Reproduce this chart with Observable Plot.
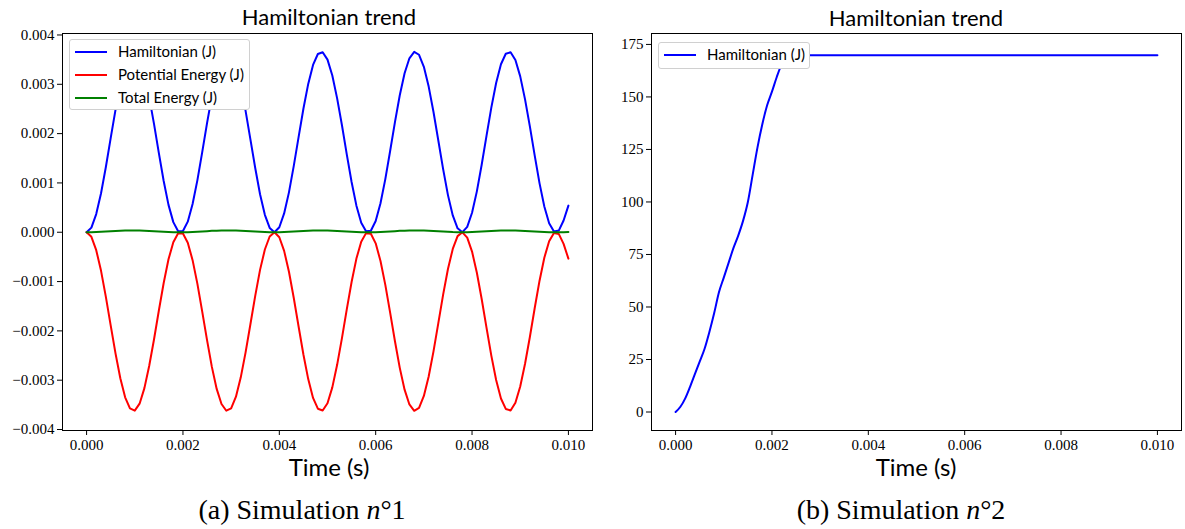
<!DOCTYPE html>
<html><head><meta charset="utf-8">
<script src="https://cdn.jsdelivr.net/npm/d3@7"></script>
<script src="https://cdn.jsdelivr.net/npm/@observablehq/plot@0.6"></script>
<style>
body{margin:0;background:#fff;}
#wrap{position:relative;width:1185px;height:529px;overflow:hidden;background:#fff;}
.abs{position:absolute;white-space:nowrap;line-height:1;}
.sans{font-family:Lato,"Open Sans",sans-serif;color:#000;}
.serif{font-family:"Liberation Serif",serif;color:#000;}
.c{transform:translate(-50%,-50%);}
.title{font-size:22px;}
.xlabel{font-size:24px;}
.cap{font-size:28px;}
.legend{position:absolute;border:1px solid #d0d0d0;border-radius:3px;background:#fff;box-sizing:border-box;}
.legend .row{position:absolute;left:0;height:20px;width:100%;}
.legend .sw{position:absolute;left:5px;top:9px;width:32px;height:2px;}
.legend .tx{position:absolute;left:48px;top:2px;font-size:15px;white-space:nowrap;line-height:1;}
svg{position:absolute;top:0;}
</style></head><body><div id="wrap"></div><script>
// ---- Simulation 1 (values in 1e-3 J), sampled every 1e-4 s from 0 to 0.010 s
const hamiltonian1 = [0,0.094,0.368,0.790,1.323,1.907,2.482,2.990,3.381,3.608,3.654,3.511,3.192,2.735,2.192,1.603,1.039,0.555,0.205,0.022,0.026,0.215,0.572,1.057,1.624,2.211,2.758,3.209,3.518,3.656,3.606,3.368,2.972,2.461,1.884,1.302,0.771,0.354,0.087,0.000,0.102,0.382,0.809,1.346,1.930,2.504,3.008,3.393,3.614,3.651,3.501,3.177,2.715,2.169,1.580,1.018,0.539,0.194,0.018,0.030,0.227,0.589,1.078,1.647,2.233,2.778,3.224,3.527,3.657,3.599,3.354,2.954,2.439,1.861,1.279,0.753,0.341,0.080,0.001,0.110,0.396,0.829,1.368,1.953,2.526,3.026,3.406,3.619,3.649,3.492,3.161,2.694,2.146,1.557,0.997,0.522,0.184,0.015,0.034,0.238,0.540];
const potential1 = [0,-0.093,-0.364,-0.782,-1.310,-1.888,-2.457,-2.960,-3.347,-3.572,-3.617,-3.476,-3.160,-2.708,-2.170,-1.587,-1.029,-0.549,-0.203,-0.022,-0.026,-0.213,-0.566,-1.046,-1.608,-2.189,-2.730,-3.177,-3.483,-3.619,-3.570,-3.334,-2.942,-2.436,-1.865,-1.289,-0.763,-0.350,-0.086,0.000,-0.101,-0.378,-0.801,-1.333,-1.911,-2.479,-2.978,-3.359,-3.578,-3.614,-3.466,-3.145,-2.688,-2.147,-1.564,-1.008,-0.534,-0.192,-0.018,-0.030,-0.225,-0.583,-1.067,-1.631,-2.211,-2.750,-3.192,-3.492,-3.620,-3.563,-3.320,-2.924,-2.415,-1.842,-1.266,-0.745,-0.338,-0.079,-0.001,-0.109,-0.392,-0.821,-1.354,-1.933,-2.501,-2.996,-3.372,-3.583,-3.613,-3.457,-3.129,-2.667,-2.125,-1.541,-0.987,-0.517,-0.182,-0.015,-0.034,-0.236,-0.535];
const total1 = [0,0.001,0.004,0.008,0.013,0.019,0.025,0.030,0.034,0.036,0.037,0.035,0.032,0.027,0.022,0.016,0.010,0.006,0.002,0,0,0.002,0.006,0.011,0.016,0.022,0.028,0.032,0.035,0.037,0.036,0.034,0.030,0.025,0.019,0.013,0.008,0.004,0.001,0,0.001,0.004,0.008,0.013,0.019,0.025,0.030,0.034,0.036,0.037,0.035,0.032,0.027,0.022,0.016,0.010,0.005,0.002,0,0,0.002,0.006,0.011,0.016,0.022,0.028,0.032,0.035,0.037,0.036,0.034,0.030,0.024,0.019,0.013,0.008,0.003,0.001,0,0.001,0.004,0.008,0.014,0.020,0.025,0.030,0.034,0.036,0.036,0.035,0.032,0.027,0.021,0.016,0.010,0.005,0.002,0,0,0.002,0.005];
const time1 = d3.range(hamiltonian1.length).map(i => i / 10000); // sampling grid, dt = 1e-4 s

// ---- Simulation 2 (J)
const time2 = [0,0.0001,0.0002,0.0003,0.0004,0.0005,0.0006,0.0007,0.0008,0.0009,0.0010,0.0011,0.0012,0.0013,0.0014,0.0015,0.0016,0.0017,0.0018,0.0019,0.0020,0.0021,0.0022,0.0023,0.0024,0.0030,0.0040,0.0050,0.0060,0.0070,0.0080,0.0090,0.0100];
const hamiltonian2 = [0,2.5,6.5,12,18,24,30,38,47,57,64,71,78,84,91,100,113,126,137,146,152.5,159.5,165.5,169.2,169.8,169.8,169.8,169.8,169.8,169.8,169.8,169.8,169.8];

// ---- labels & ticks
const seriesNames1 = ["Hamiltonian (J)", "Potential Energy (J)", "Total Energy (J)"];
const seriesNames2 = ["Hamiltonian (J)"];
const seriesColors = ["#0000ff", "#ff0000", "#008000"];
const xTicks = [0, 0.002, 0.004, 0.006, 0.008, 0.010];
const yTicks1 = [-0.004, -0.003, -0.002, -0.001, 0, 0.001, 0.002, 0.003, 0.004];
const yTicks2 = [0, 25, 50, 75, 100, 125, 150, 175];
const titleText = "Hamiltonian trend";
const xLabelText = "Time (s)";

const rows1 = [];
time1.forEach((t, i) => {
  rows1.push({t, v: hamiltonian1[i] * 1e-3, s: seriesNames1[0]});
  rows1.push({t, v: potential1[i] * 1e-3, s: seriesNames1[1]});
  rows1.push({t, v: total1[i] * 1e-3, s: seriesNames1[2]});
});
const rows2 = time2.map((t, i) => ({t, v: hamiltonian2[i], s: seriesNames2[0]}));

const wrap = document.getElementById("wrap");
const f3 = d3.format(".3f");

function panel(rows, yDomain, yTicks, yFmt, names, curve) {
  return Plot.plot({
    width: 596, height: 452,
    marginLeft: 62, marginRight: 4, marginTop: 33, marginBottom: 22,
    style: {fontFamily: "Liberation Serif, serif", fontSize: "15px", color: "#000", background: "transparent"},
    x: {domain: [-0.0005, 0.0105]},
    y: {domain: yDomain},
    color: {domain: names, range: seriesColors.slice(0, names.length)},
    marks: [
      Plot.lineY(rows, {x: "t", y: "v", z: "s", stroke: "s", strokeWidth: 2, curve}),
      Plot.frame({stroke: "#000", strokeWidth: 1}),
      Plot.axisX({ticks: xTicks, tickFormat: f3, tickSize: 5, tickPadding: 4, label: null, fontSize: 15}),
      Plot.axisY({ticks: yTicks, tickFormat: yFmt, tickSize: 5, tickPadding: 3, label: null, fontSize: 15})
    ]
  });
}

const p1 = panel(rows1, [-0.00402, 0.00403], yTicks1, f3, seriesNames1, "linear");
p1.style.left = "0px";
wrap.appendChild(p1);
const p2 = panel(rows2, [-8.8, 180.2], yTicks2, d3.format("d"), seriesNames2, "monotone-x");
p2.style.left = "589px";
wrap.appendChild(p2);

function addText(cls, html, x, y) {
  const d = document.createElement("div");
  d.className = "abs c " + cls;
  d.innerHTML = html;
  d.style.left = x + "px"; d.style.top = y + "px";
  wrap.appendChild(d);
}
addText("sans title", titleText, 329, 17);
addText("sans title", titleText, 916, 18);
addText("sans xlabel", xLabelText, 329, 467);
addText("sans xlabel", xLabelText, 916, 467);
addText("serif cap", "(a) Simulation <i>n</i>°1", 302, 510);
addText("serif cap", "(b) Simulation <i>n</i>°2", 901, 510);

function legend(names, left, top, width, height) {
  const L = document.createElement("div");
  L.className = "legend";
  L.style.left = left + "px"; L.style.top = top + "px";
  L.style.width = width + "px"; L.style.height = height + "px";
  names.forEach((n, i) => {
    const r = document.createElement("div");
    r.className = "row";
    r.style.top = (2 + i * 23) + "px";
    r.innerHTML = `<div class="sw" style="background:${seriesColors[i]}"></div><div class="tx sans">${n}</div>`;
    L.appendChild(r);
  });
  wrap.appendChild(L);
}
legend(seriesNames1, 69, 39, 181, 71);
legend(seriesNames2, 658, 42, 152, 27);
</script></body></html>
